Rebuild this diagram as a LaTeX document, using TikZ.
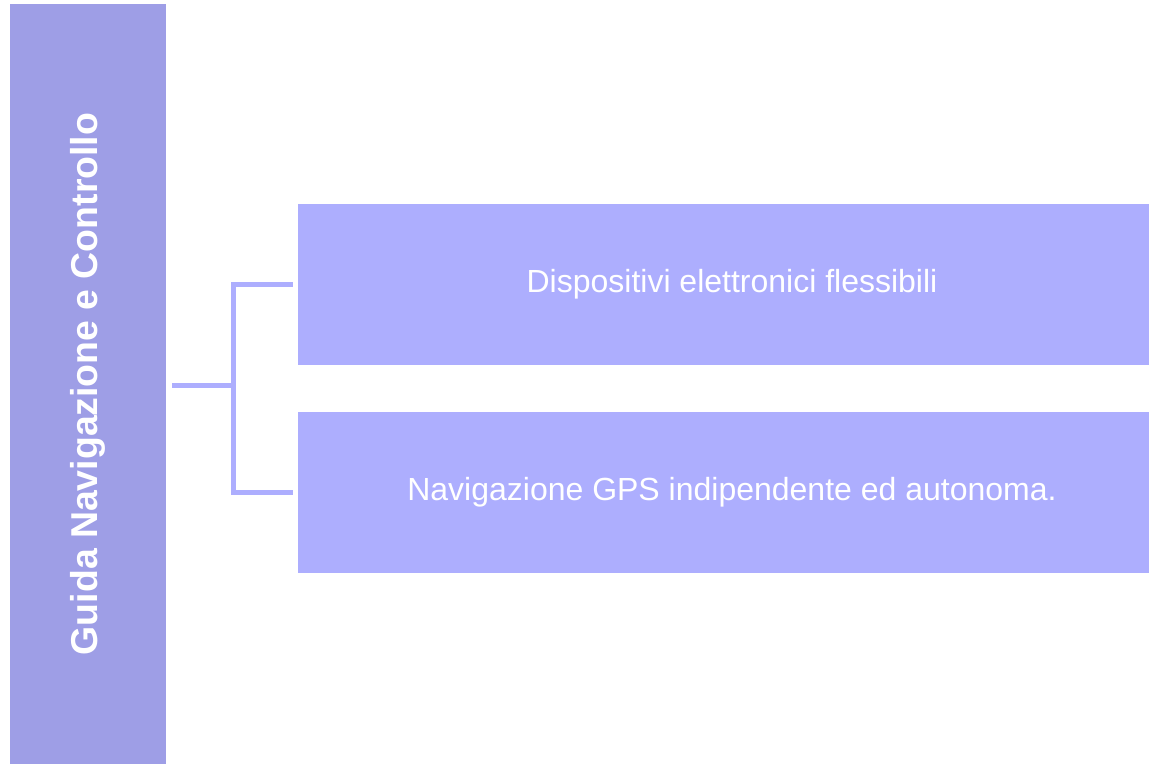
\documentclass[tikz,border=0pt]{standalone}
\usepackage{fontspec}
\setmainfont{Liberation Sans}
\usepackage{xcolor}
\usetikzlibrary{positioning}
\definecolor{barblue}{HTML}{9E9EE6}
\definecolor{boxblue}{HTML}{ADAEFE}

\begin{document}
\begin{tikzpicture}[x=1pt, y=-1pt,
    topic/.style={fill=barblue, draw=none, minimum width=156pt, minimum height=760pt, inner sep=0pt},
    item/.style={fill=boxblue, draw=none, minimum width=851pt, minimum height=161pt, inner sep=0pt,
        text=white, font=\fontsize{32}{38}\selectfont},
    conn/.style={draw=boxblue, line width=5pt}]
    \useasboundingbox (0,0) rectangle (1149,764);
    \node[topic] (bar) at (88,384) {};
    \node[rotate=90, text=white, font=\bfseries\fontsize{37.4}{44}\selectfont] (title) at (bar.center) {Guida Navigazione e Controllo};
    \node[item] (box1) at (723.5,284.5) {\hspace{17pt}Dispositivi elettronici flessibili};
    \node[item] (box2) at (723.5,492.5) {\hspace{17pt}Navigazione GPS indipendente ed autonoma.};
    \coordinate (fork) at (233,385);
    \draw[conn] ([xshift=6pt]bar.east |- fork) -- (fork);
    \draw[conn] ([xshift=-5pt]box1.west) -| (fork) |- ([xshift=-5pt]box2.west);
\end{tikzpicture}
\end{document}
